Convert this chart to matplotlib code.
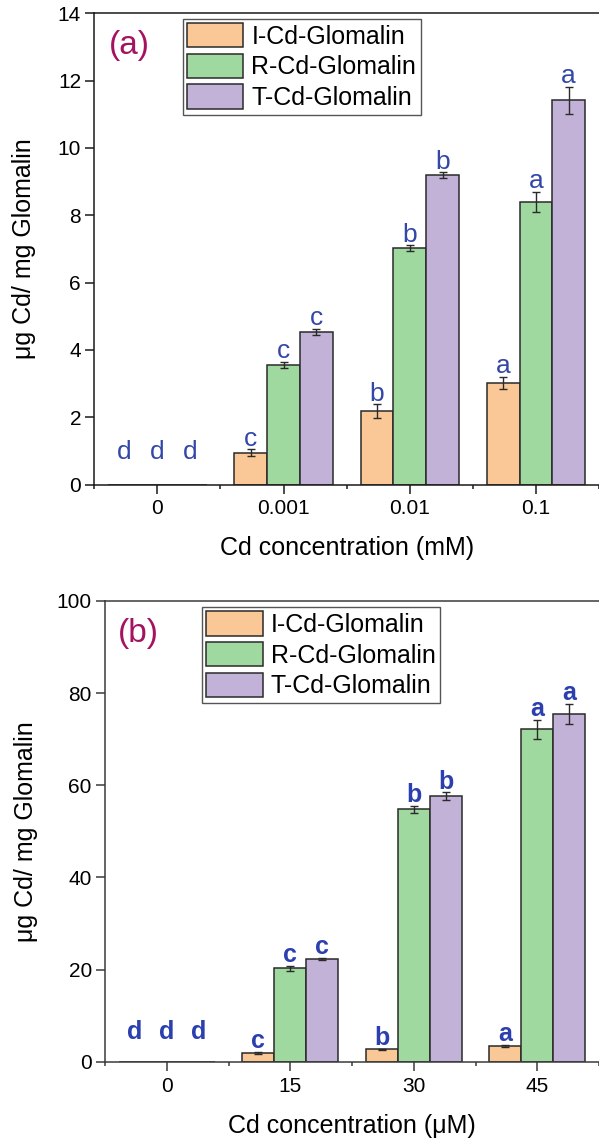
import numpy as np
from matplotlib import pyplot as plt

plt.rcParams['font.family'] = ['Liberation Sans', 'DejaVu Sans']

# panel (a): Cd concentration in mM
conc_mm = ['0', '0.001', '0.01', '0.1']
i_cd_a = [0, 0.95, 2.18, 3.02]
i_err_a = [0, 0.10, 0.20, 0.19]
r_cd_a = [0, 3.56, 7.02, 8.40]
r_err_a = [0, 0.09, 0.09, 0.29]
t_cd_a = [0, 4.53, 9.20, 11.42]
t_err_a = [0, 0.10, 0.08, 0.40]
letters_a = ['d', 'c', 'b', 'a']

# panel (b): Cd concentration in uM
conc_um = ['0', '15', '30', '45']
i_cd_b = [0, 1.95, 2.7, 3.45]
i_err_b = [0, 0.2, 0.2, 0.2]
r_cd_b = [0, 20.3, 54.8, 72.1]
r_err_b = [0, 0.6, 0.8, 2.1]
t_cd_b = [0, 22.3, 57.6, 75.5]
t_err_b = [0, 0.3, 0.9, 2.2]
letters_b = ['d', 'c', 'b', 'a']

series_names = ['I-Cd-Glomalin', 'R-Cd-Glomalin', 'T-Cd-Glomalin']
bar_colors = ['#f9c896', '#9fd9a0', '#c2b2d7']
edge = '#2a2a2a'


def draw_panel(ax, labels, values, errors, letters, tag, xlabel, ymax, ystep,
               letter_kw, zero_offset, legend_anchor, tag_pos, ylabel_x, xlabel_y, spine_color):
    x = np.arange(len(labels))
    width = 0.26
    for k, (vals, errs) in enumerate(zip(values, errors)):
        pos = x + (k - 1) * width
        ax.bar(pos, vals, width, color=bar_colors[k], edgecolor=edge, linewidth=1.1,
               label=series_names[k], zorder=2)
        keep = [j for j, v in enumerate(vals) if v > 0]
        ax.errorbar(pos[keep], np.array(vals)[keep], yerr=np.array(errs)[keep], fmt='none',
                    ecolor=edge, elinewidth=1, capsize=3.2, capthick=1, zorder=3)
        for xp, v, e, s in zip(pos, vals, errs, letters):
            off = zero_offset if v == 0 else -1
            ax.annotate(s, (xp, v + e), xytext=(0, off), textcoords='offset points',
                        ha='center', va='bottom', **letter_kw)

    ax.set_xlim(-0.5, 3.5)
    ax.set_ylim(0, ymax)
    ax.set_xticks(x)
    ax.set_xticklabels(labels)
    ax.set_xticks(np.arange(-0.5, 4, 1), minor=True)
    ax.set_yticks(np.arange(0, ymax + 0.1, ystep))
    ax.tick_params(which='major', direction='out', length=6.5, width=1.1, labelsize=15,
                   pad=4, color=spine_color)
    ax.tick_params(axis='y', pad=3)
    ax.tick_params(which='minor', direction='out', length=3.2, width=1.1, color=spine_color)
    ax.tick_params(axis='y', which='minor', left=False)
    for side in ['left', 'bottom', 'top']:
        ax.spines[side].set_linewidth(1.1)
        ax.spines[side].set_color(spine_color)
    ax.spines['right'].set_visible(False)

    ax.set_ylabel('\u03bcg Cd/ mg Glomalin', fontsize=18)
    ax.yaxis.set_label_coords(ylabel_x, 0.5)
    ax.set_xlabel(xlabel, fontsize=18)
    ax.xaxis.set_label_coords(0.5, xlabel_y)

    ax.text(tag_pos[0], tag_pos[1], tag, transform=ax.transAxes, fontsize=24,
            color='#a3135f', ha='center', va='center')

    leg = ax.legend(loc='upper left', bbox_to_anchor=legend_anchor, borderaxespad=0,
                    fontsize=18, handlelength=2.25, handleheight=1.12, labelspacing=0.2,
                    handletextpad=0.32, borderpad=0.18, fancybox=False,
                    edgecolor='#555555', framealpha=1)
    leg.get_frame().set_linewidth(1.0)


fig = plt.figure(figsize=(5.99, 11.41), dpi=100)

ax_a = fig.add_axes([0.1574, 0.5753, 0.8426, 0.4131])
draw_panel(ax_a, conc_mm, [i_cd_a, r_cd_a, t_cd_a], [i_err_a, r_err_a, t_err_a],
           letters_a, '(a)', 'Cd concentration (mM)', 14, 2,
           dict(fontsize=19, color='#3347a8'), 15, (0.175, 0.9885), (0.069, 0.9325),
           -0.1155, -0.109, '#1a1a1a')

ax_b = fig.add_axes([0.1753, 0.0693, 0.8247, 0.4041])
draw_panel(ax_b, conc_um, [i_cd_b, r_cd_b, t_cd_b], [i_err_b, r_err_b, t_err_b],
           letters_b, '(b)', 'Cd concentration (\u03bcM)', 100, 20,
           dict(fontsize=18, color='#2b3fae', fontweight='bold'), 13, (0.196, 0.987),
           (0.067, 0.9286), -0.1356, -0.113, '#3a3a3a')

fig.savefig('out.png', dpi=100)
